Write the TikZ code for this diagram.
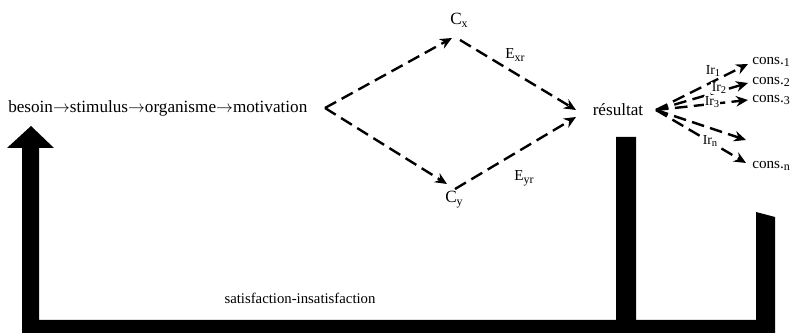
\documentclass[tikz,border=0pt]{standalone}
\usepackage{fontspec}
\setmainfont{Liberation Serif}
\usetikzlibrary{arrows.meta}
\newcommand\lowsub[1]{\raisebox{-0.4ex}{\fontsize{8.5}{9}\selectfont #1}}
\newcommand\irsub[1]{\raisebox{-0.35ex}{\fontsize{7.5}{8}\selectfont #1}}
\begin{document}
\begin{tikzpicture}[x=0.025cm,y=-0.025cm,
  lbl/.style={inner sep=0pt, font=\fontsize{12.2}{14}\selectfont},
  sm/.style={inner sep=0pt, font=\fontsize{10.8}{12}\selectfont},
  irl/.style={inner sep=0.3pt, fill=white, font=\fontsize{9.8}{11}\selectfont},
  dsh/.style={line width=1.7pt, dash pattern=on 9pt off 4.5pt, -{Stealth[length=8.5pt,width=7.5pt]}},
  bar/.style={fill=black, draw=none}]
\useasboundingbox (0,0) rectangle (794,333);
% thick feedback path
\fill[bar] (22,333) -- (22,148) -- (7,148) -- (31,126) -- (54,148) -- (39,148)
  -- (39,320) -- (616,320) -- (616,137) -- (636,137) -- (636,320) -- (756,320)
  -- (756,212) -- (775,217) -- (775,333) -- cycle;
% nodes
\node[lbl, anchor=west] (chain) at (8,108) {besoin$\rightarrow$stimulus$\rightarrow$organisme$\rightarrow$motivation};
\coordinate (mot) at (325,108);
\node[lbl] (cx) at (459,20) {C\lowsub{x}};
\node[lbl] (cy) at (454,200) {C\lowsub{y}};
\coordinate (cxin) at (452,38);
\coordinate (cxout) at (460,40);
\coordinate (cyin) at (447,184);
\coordinate (cyout) at (455,189);
\coordinate (r1) at (576,110);
\coordinate (r2) at (576,117);
\node[sm] (exr) at (515,55) {E\lowsub{xr}};
\node[sm] (eyr) at (524,178) {E\lowsub{yr}};
\node[lbl] (res) at (618,110) {résultat};
\coordinate (hub) at (656,110);
\coordinate (t1) at (748,64);
\coordinate (t2) at (748,83);
\coordinate (t3) at (748,100);
\coordinate (t4) at (746,140);
\coordinate (t5) at (746,163);
\node[sm, anchor=west] (c1) at (752,62) {cons.\lowsub{1}};
\node[sm, anchor=west] (c2) at (752,82) {cons.\lowsub{2}};
\node[sm, anchor=west] (c3) at (752,100) {cons.\lowsub{3}};
\node[sm, anchor=west] (cn) at (752,166) {cons.\lowsub{n}};
\node[font=\fontsize{10.5}{12}\selectfont, inner sep=0pt] (sat) at (300,298) {satisfaction-insatisfaction};
% connectors
\draw[dsh] (mot) -- (cxin);
\draw[dsh] (mot) -- (cyin);
\draw[dsh] (cxout) -- (r1);
\draw[dsh] (cyout) -- (r2);
\draw[dsh] (hub) -- (t1);
\draw[dsh] (hub) -- (t2);
\draw[dsh] (hub) -- (t3);
\draw[dsh] (hub) -- (t4);
\draw[dsh] (hub) -- (t5);
% labels on the fan of consequences
\node[irl] (ir1) at (713,71) {Ir\irsub{1}};
\node[irl] (ir2) at (719,88) {Ir\irsub{2}};
\node[irl] (ir3) at (712,102) {Ir\irsub{3}};
\node[irl] (irn) at (710,141) {Ir\irsub{n}};
\end{tikzpicture}
\end{document}
